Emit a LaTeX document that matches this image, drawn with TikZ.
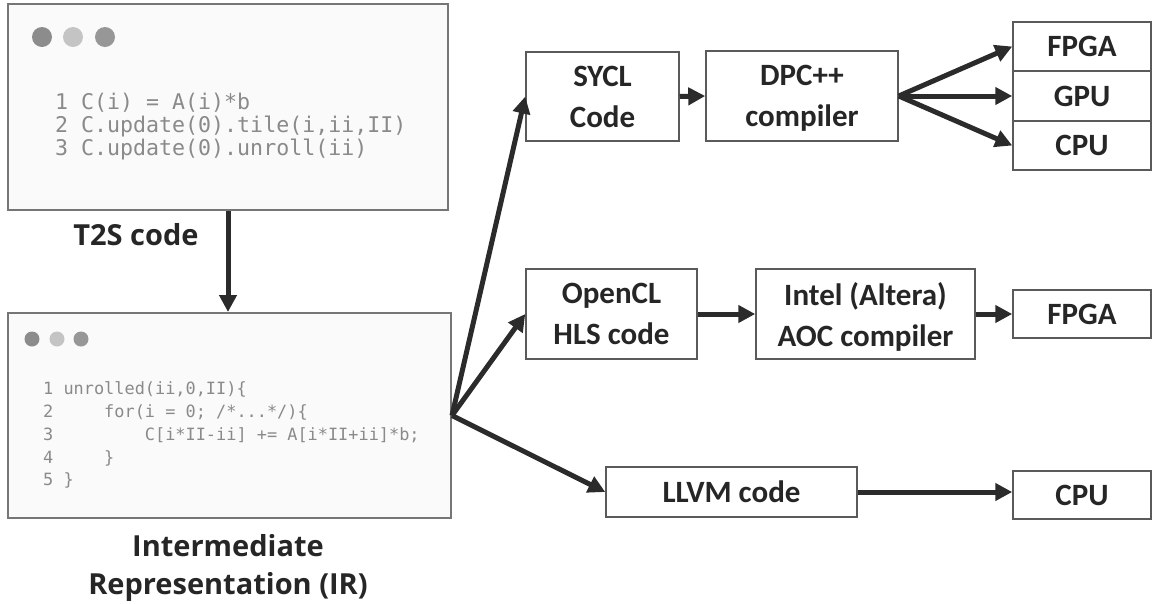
\documentclass[tikz,border=0pt]{standalone}
\usepackage{fontspec}
\setmainfont{Carlito}
\newfontfamily\labelfont{Open Sans}
\setmonofont{DejaVu Sans Mono}
\usetikzlibrary{arrows.meta}
\definecolor{boxline}{RGB}{90,90,90}
\definecolor{arrowink}{RGB}{43,43,43}
\definecolor{codeink}{RGB}{138,138,138}
\definecolor{panelfill}{RGB}{250,250,250}
\definecolor{panelline}{RGB}{118,118,118}
\definecolor{textink}{RGB}{38,38,38}
\definecolor{dotdark}{RGB}{140,140,140}
\definecolor{dotlight}{RGB}{196,196,196}

\begin{document}
\begin{tikzpicture}[x=1pt, y=-1pt, >={Triangle[length=17pt, width=17pt]},
  box/.style={draw=boxline, line width=1.5pt, fill=white, text=textink, align=center, inner sep=0pt, text depth=0pt, font=\bfseries\fontsize{31}{41}\selectfont},
  panel/.style={draw=panelline, line width=2pt, fill=panelfill, inner sep=0pt},
  flow/.style={->, draw=arrowink, line width=5pt},
  bigcode/.style={anchor=base west, inner sep=0pt, text=codeink, font=\ttfamily\fontsize{21.6}{23}\selectfont},
  smallcode/.style={anchor=base west, inner sep=0pt, text=codeink, font=\ttfamily\fontsize{16.9}{20}\selectfont},
  caption/.style={text=textink, inner sep=0pt, align=center, font=\labelfont\bfseries\fontsize{29}{38}\selectfont}]
  \useasboundingbox (0,0) rectangle (1153,603);
  \node[panel, minimum width=440pt, minimum height=206pt] (t2s) at (228,107) {};
  \fill[dotdark] (42,37) circle (10pt);
  \fill[dotlight] (73,37) circle (10pt);
  \fill[dotdark!90] (105,37) circle (10pt);
  \node[bigcode] (t2sa) at (55,109) {1~C(i)~=~A(i)*b};
  \node[bigcode] (t2sb) at (55,132) {2~C.update(0).tile(i,ii,II)};
  \node[bigcode] (t2sc) at (55,155) {3~C.update(0).unroll(ii)};
  \node[caption, anchor=base] (t2slabel) at (136,245) {T2S code};
  \node[panel, minimum width=443pt, minimum height=205pt] (ir) at (229.5,415.5) {};
  \fill[dotdark] (32,339) circle (7.5pt);
  \fill[dotlight] (57,339) circle (7.5pt);
  \fill[dotdark!90] (81,339) circle (7.5pt);
  \node[smallcode] (ira) at (43,394) {1~unrolled(ii,0,II)\{};
  \node[smallcode] (irb) at (43,417) {2~~~~~for(i~=~0;~/*...*/)\{};
  \node[smallcode] (irc) at (43,440) {3~~~~~~~~~C[i*II-ii]~+=~A[i*II+ii]*b;};
  \node[smallcode] (ird) at (43,463) {4~~~~~\}};
  \node[smallcode] (ire) at (43,485) {5~\}};
  \node[caption, anchor=base] (irlabel) at (228,594) {Intermediate\\Representation (IR)};
  \draw[flow] (t2s.south) -- (t2s.south |- ir.north);
  \node[box, minimum width=153pt, minimum height=89pt] (sycl) at (602.5,96.5) {SYCL\\Code};
  \node[box, minimum width=192pt, minimum height=90pt] (dpc) at (802,96) {DPC++\\compiler};
  \node[box, minimum width=138pt, minimum height=49pt] (fpgaa) at (1082,46.5) {FPGA};
  \node[box, minimum width=138pt, minimum height=50pt] (gpua) at (1082,96) {GPU};
  \node[box, minimum width=138pt, minimum height=49pt] (cpua) at (1082,145.5) {CPU};
  \node[box, minimum width=171pt, minimum height=90pt] (opencl) at (611.5,314) {OpenCL\\HLS code};
  \node[box, minimum width=219pt, minimum height=90pt] (aoc) at (865.5,314) {Intel (Altera)\\AOC compiler};
  \node[box, minimum width=138pt, minimum height=48pt] (fpgab) at (1082,314) {FPGA};
  \node[box, minimum width=251pt, minimum height=50pt] (llvm) at (731.5,492) {LLVM code};
  \node[box, minimum width=138pt, minimum height=48pt] (cpub) at (1082,495) {CPU};
  \draw[flow] (ir.east) -- (sycl.west);
  \draw[flow] (ir.east) -- (opencl.west);
  \draw[flow] (ir.east) -- (llvm.west);
  \draw[flow] (sycl.east) -- (dpc.west);
  \draw[flow] (dpc.east) -- (fpgaa.west);
  \draw[flow] (dpc.east) -- (gpua.west);
  \draw[flow] (dpc.east) -- (cpua.west);
  \draw[flow] (opencl.east) -- (aoc.west);
  \draw[flow] (aoc.east) -- (fpgab.west);
  \draw[flow] (llvm.east) -- (llvm.east -| cpub.west);
\end{tikzpicture}
\end{document}
